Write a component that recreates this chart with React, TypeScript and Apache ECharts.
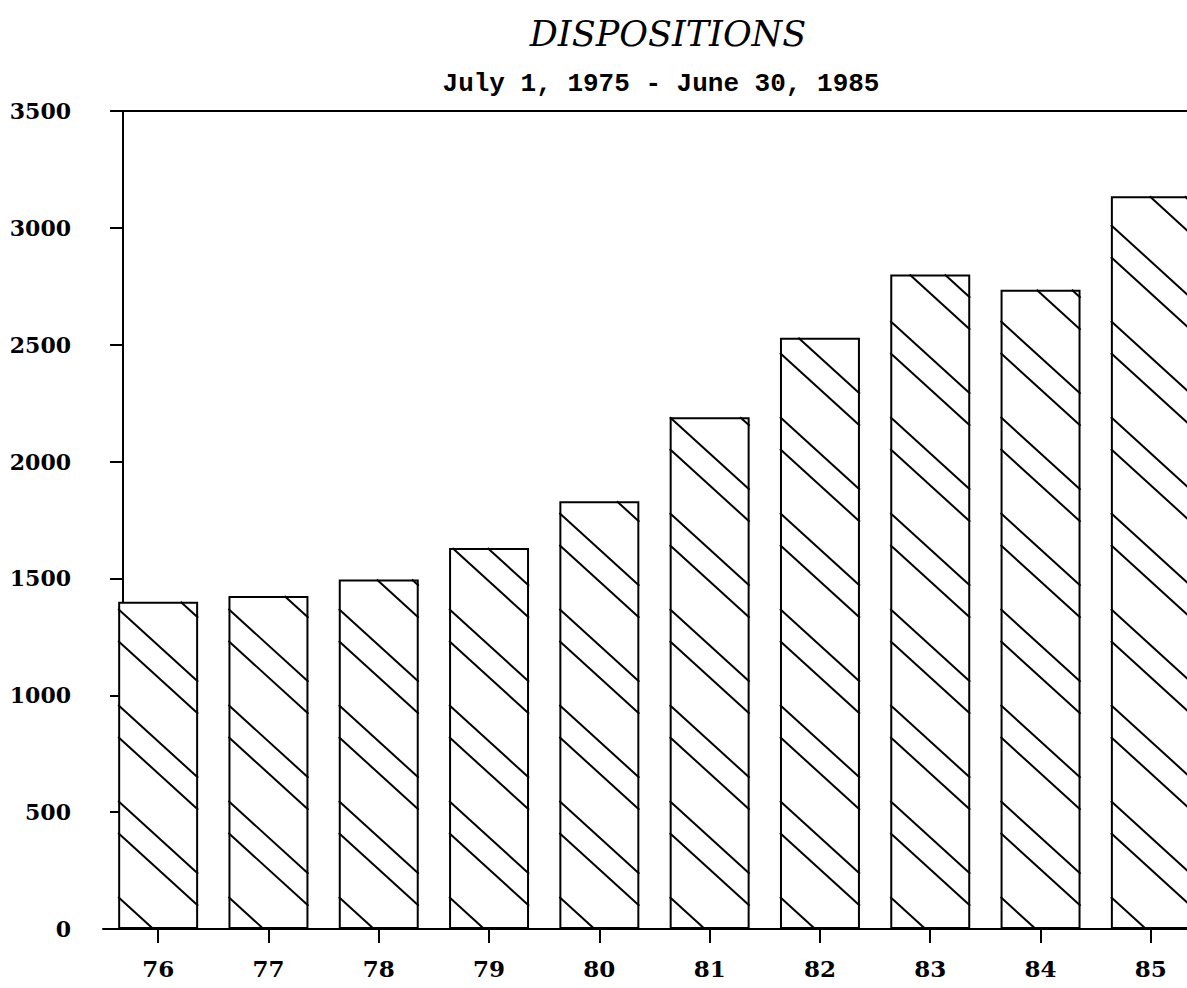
import React, { useEffect, useRef } from "react";
import * as echarts from "echarts";

// ---- data ----
const CATEGORIES: string[] = ["76", "77", "78", "79", "80", "81", "82", "83", "84", "85"];
const DISPOSITIONS: number[] = [1400, 1425, 1495, 1630, 1830, 2190, 2530, 2800, 2735, 3135];
const Y_MIN = 0;
const Y_MAX = 3500;
const Y_INTERVAL = 500;
const TITLE = "DISPOSITIONS";
const SUBTITLE = "July 1, 1975 - June 30, 1985";

// ---- layout / style ----
const W = 1187;
const H = 988;
const GRID_LEFT = 103;
const GRID_RIGHT = -19;
const GRID_TOP = 111;
const GRID_BOTTOM = 59;
const Y_AXIS_SHIFT = 20; // y axis line sits 20px right of category band start
const BAR_RATIO = 0.725;
const HATCH_PERIOD = 96;
const HATCH_PAIR_GAP = 32;
const HATCH_SLOPE = 0.91;
const INK = "#000";
const LABEL_FONT = "DejaVu Serif";

function hatchItem(params: any, api: any) {
  const i = api.value(0);
  const v = api.value(1);
  const base = api.coord([i, 0]);
  const top = api.coord([i, v]);
  const bw = api.size([1, 0])[0] * BAR_RATIO;
  const x0 = base[0] - bw / 2;
  const x1 = base[0] + bw / 2;
  const yb = base[1];
  const yt = top[1];
  const h = yb - yt;
  const maxO = h + HATCH_SLOPE * bw;
  const children: any[] = [];
  for (let k = 0; k * HATCH_PERIOD <= maxO; k++) {
    for (const extra of [0, HATCH_PAIR_GAP]) {
      const o = k * HATCH_PERIOD + extra;
      if (o <= 0 || o >= maxO) continue;
      let sx = x0;
      let sy = yb - o;
      if (sy < yt) {
        sx = x0 + (yt - sy) / HATCH_SLOPE;
        sy = yt;
      }
      let ex = x1;
      let ey = yb - o + HATCH_SLOPE * (x1 - x0);
      if (ey > yb) {
        ex = x0 + o / HATCH_SLOPE;
        ey = yb;
      }
      if (ex - sx < 0.5) continue;
      children.push({
        type: "line",
        shape: { x1: sx, y1: sy, x2: ex, y2: ey },
        style: { stroke: INK, lineWidth: 2 },
      });
    }
  }
  return { type: "group", children };
}

export default function App() {
  const ref = useRef<HTMLDivElement>(null);

  useEffect(() => {
    if (!ref.current) return;
    const chart = echarts.init(ref.current, null, { renderer: "svg" });
    chart.setOption({
      animation: false,
      backgroundColor: "#fff",
      grid: {
        left: GRID_LEFT,
        right: GRID_RIGHT,
        top: GRID_TOP,
        bottom: GRID_BOTTOM,
        containLabel: false,
        outerBoundsMode: "none",
      },
      xAxis: {
        type: "category",
        data: CATEGORIES,
        boundaryGap: true,
        axisLine: { show: true, lineStyle: { color: INK, width: 2 } },
        axisTick: { show: true, alignWithLabel: true, length: 14, lineStyle: { color: INK, width: 2 } },
        axisLabel: {
          color: INK,
          fontFamily: LABEL_FONT,
          fontWeight: "bold",
          fontSize: 23,
          margin: 28,
        },
        splitLine: { show: false },
      },
      yAxis: {
        type: "value",
        min: Y_MIN,
        max: Y_MAX,
        interval: Y_INTERVAL,
        offset: -Y_AXIS_SHIFT,
        axisLine: { show: true, lineStyle: { color: INK, width: 2 } },
        axisTick: { show: true, inside: false, length: 13, lineStyle: { color: INK, width: 2 } },
        axisLabel: {
          color: INK,
          fontFamily: LABEL_FONT,
          fontWeight: "bold",
          fontSize: 22,
          margin: 52,
          formatter: (v: number) => String(v),
        },
        splitLine: { show: false },
      },
      series: [
        {
          type: "bar",
          name: "Dispositions",
          data: DISPOSITIONS,
          barWidth: BAR_RATIO * 100 + "%",
          itemStyle: { color: "#fff", borderColor: INK, borderWidth: 2 },
          z: 2,
        },
        {
          type: "custom",
          name: "hatch",
          data: DISPOSITIONS.map((v, i) => [i, v]),
          renderItem: hatchItem,
          z: 3,
          silent: true,
        },
      ],
    });

    const yTop = chart.convertToPixel({ yAxisIndex: 0 }, Y_MAX) as number;
    const axisX = GRID_LEFT + Y_AXIS_SHIFT;
    chart.setOption({
      graphic: [
        {
          id: "title",
          type: "text",
          x: 668,
          y: 34,
          style: {
            text: TITLE,
            font: "italic 35px 'DejaVu Serif'",
            fill: INK,
            textAlign: "center",
            textVerticalAlign: "middle",
            align: "center",
            verticalAlign: "middle",
          },
        },
        {
          id: "subtitle",
          type: "text",
          x: 661,
          y: 84,
          style: {
            text: SUBTITLE,
            font: "bold 26px 'Liberation Mono'",
            fill: INK,
            textAlign: "center",
            textVerticalAlign: "middle",
            align: "center",
            verticalAlign: "middle",
          },
        },
        {
          id: "topline",
          type: "line",
          shape: { x1: axisX, y1: yTop, x2: W, y2: yTop },
          style: { stroke: INK, lineWidth: 2 },
        },
      ],
    });

    return () => chart.dispose();
  }, []);

  return (
    <div
      ref={ref}
      style={{ position: "absolute", left: 0, top: 0, width: W, height: H, background: "#fff" }}
    />
  );
}
